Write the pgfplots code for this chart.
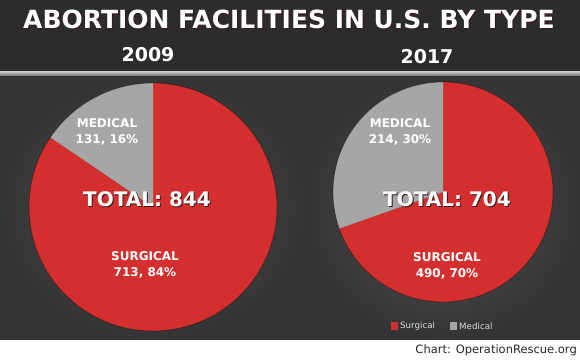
\documentclass[border=0pt]{standalone}
\usepackage{pgfplots}
\pgfplotsset{compat=1.18}
\usepackage{fontspec}
\setmainfont{DejaVu Sans}
\definecolor{surg}{RGB}{211,47,47}
\definecolor{medc}{RGB}{166,166,166}
\definecolor{barbg}{RGB}{44,44,44}
\definecolor{panelin}{RGB}{84,84,84}
\definecolor{panelout}{RGB}{52,52,52}
\definecolor{shadowc}{RGB}{55,25,25}
\newcommand{\shadowed}[2][1.5pt]{\makebox[0pt][l]{\hspace{#1}\raisebox{-#1}{\color{shadowc}#2}}#2}
% data: surgical, medical
\def\surgA{713}\def\medA{131}
\def\surgB{490}\def\medB{214}
\pgfmathsetmacro{\angA}{90+360*(\medA/(\medA+\surgA))}
\pgfmathsetmacro{\angB}{90+360*(\medB/(\medB+\surgB))}
\pgfmathtruncatemacro{\totA}{\medA+\surgA}
\pgfmathtruncatemacro{\totB}{\medB+\surgB}
\pgfmathtruncatemacro{\pcA}{round(100*(\medA/\totA))}
\pgfmathtruncatemacro{\pcB}{round(100*(\medB/\totB))}
\pgfmathtruncatemacro{\psA}{100-\pcA}
\pgfmathtruncatemacro{\psB}{100-\pcB}
\begin{document}
\begin{tikzpicture}
\begin{axis}[width=580pt,height=361pt,scale only axis,
  xmin=0,xmax=580,ymin=0,ymax=361,hide axis,clip=false]
% backgrounds
\fill[white] (axis cs:0,0) rectangle (axis cs:580,22);
\shade[inner color=panelin,outer color=panelout] (axis cs:0,22) rectangle (axis cs:305,285);
\shade[inner color=panelin,outer color=panelout] (axis cs:305,22) rectangle (axis cs:580,285);
\shade[top color=black!22,bottom color=black!55] (axis cs:0,285) rectangle (axis cs:580,289.5);
\fill[barbg] (axis cs:0,289.5) rectangle (axis cs:580,361);
% pie 2009
\fill[surg] (axis cs:153,154) -- ++(\angA:124pt) arc[start angle=\angA,end angle=450,radius=124pt] -- cycle;
\fill[medc] (axis cs:153,154) -- ++(90:124pt) arc[start angle=90,end angle=\angA,radius=124pt] -- cycle;
\draw[black,opacity=0.35,line width=0.8pt] (axis cs:153,154) circle[radius=124pt];
% pie 2017
\fill[surg] (axis cs:443,169) -- ++(\angB:110pt) arc[start angle=\angB,end angle=450,radius=110pt] -- cycle;
\fill[medc] (axis cs:443,169) -- ++(90:110pt) arc[start angle=90,end angle=\angB,radius=110pt] -- cycle;
\draw[black,opacity=0.35,line width=0.8pt] (axis cs:443,169) circle[radius=110pt];
% titles
\node[white,font=\fontsize{25}{30}\selectfont\bfseries] at (axis cs:289,341) {\shadowed[1pt]{ABORTION FACILITIES IN U.S. BY TYPE}};
\node[white,font=\fontsize{19}{23}\selectfont\bfseries] at (axis cs:148,306) {2009};
\node[white,font=\fontsize{19}{23}\selectfont\bfseries] at (axis cs:427,304) {2017};
% slice labels
\node[white,align=center,font=\fontsize{12}{16}\selectfont\bfseries] at (axis cs:107,229) {MEDICAL\\\medA, \pcA\%};
\node[white,align=center,font=\fontsize{12}{16}\selectfont\bfseries] at (axis cs:400,229) {MEDICAL\\\medB, \pcB\%};
\node[white,align=center,font=\fontsize{12}{16}\selectfont\bfseries] at (axis cs:145,96) {SURGICAL\\\surgA, \psA\%};
\node[white,align=center,font=\fontsize{12}{16}\selectfont\bfseries] at (axis cs:447,95.5) {SURGICAL\\\surgB, \psB\%};
% totals
\node[white,font=\fontsize{20}{24}\selectfont\bfseries] at (axis cs:147,161) {\shadowed[1pt]{TOTAL: \totA}};
\node[white,font=\fontsize{20}{24}\selectfont\bfseries] at (axis cs:447,161) {\shadowed[1pt]{TOTAL: \totB}};
% legend
\fill[surg] (axis cs:390.5,31.5) rectangle (axis cs:397.5,38.5);
\node[anchor=west,inner sep=0pt,text=white!85!black,font=\fontsize{8.7}{10}\selectfont] at (axis cs:400,35) {Surgical};
\fill[medc] (axis cs:449.5,31.5) rectangle (axis cs:456.5,38.5);
\node[anchor=west,inner sep=0pt,text=white!85!black,font=\fontsize{8.7}{10}\selectfont] at (axis cs:459,35) {Medical};
% credit
\node[anchor=east,inner sep=0pt,text=black!85,font=\fontsize{11.5}{13}\selectfont] at (axis cs:577,11) {Chart: OperationRescue.org};
\end{axis}
\end{tikzpicture}
\end{document}
